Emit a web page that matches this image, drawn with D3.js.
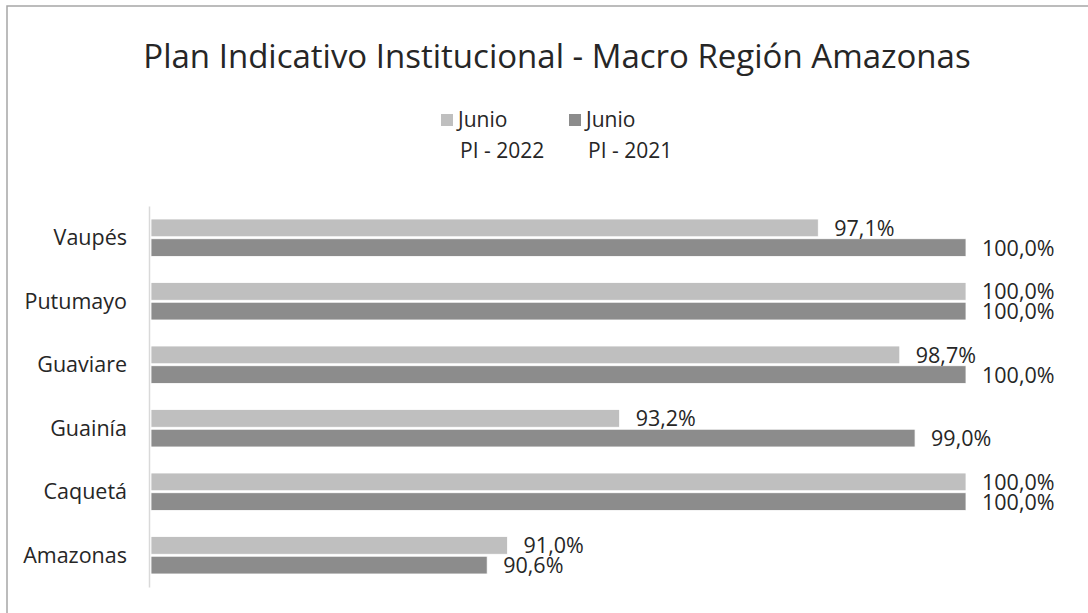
<!DOCTYPE html>
<html>
<head>
<meta charset="utf-8">
<script src="https://cdn.jsdelivr.net/npm/d3@7"></script>
<style>
  body { margin: 0; background: #fff; }
  svg { display: block; font-family: "Open Sans", sans-serif; }
</style>
</head>
<body>
<svg id="chart" width="1088" height="613"></svg>
<script>
// categories, top to bottom
const categories = ['Vaupés', 'Putumayo', 'Guaviare', 'Guainía', 'Caquetá', 'Amazonas'];
const seriesNames = ['Junio PI - 2022', 'Junio PI - 2021'];
const legendLines = [['Junio', 'PI - 2022'], ['Junio', 'PI - 2021']];
const values2022 = [97.1, 100.0, 98.7, 93.2, 100.0, 91.0];
const values2021 = [100.0, 100.0, 100.0, 99.0, 100.0, 90.6];
const colors = ['#bfbfbf', '#8c8c8c'];

const width = 1088;
const height = 613;
const svg = d3.select('#chart');

// outer chart border
svg.append('rect')
  .attr('x', 7).attr('y', 6)
  .attr('width', width + 10).attr('height', height + 10)
  .attr('fill', 'none')
  .attr('stroke', '#a6a6a6')
  .attr('stroke-width', 1.5);

// title
svg.append('text')
  .attr('x', 557).attr('y', 68)
  .attr('text-anchor', 'middle')
  .attr('font-size', 33)
  .attr('fill', '#262626')
  .text('Plan Indicativo Institucional - Macro Región Amazonas');

// legend
const legendX = [441, 569];
legendLines.forEach((lines, i) => {
  const g = svg.append('g').attr('transform', `translate(${legendX[i]}, 0)`);
  g.append('rect')
    .attr('x', 0).attr('y', 114)
    .attr('width', 12).attr('height', 12)
    .attr('fill', colors[i]);
  g.append('text')
    .attr('x', 17).attr('y', 127)
    .attr('font-size', 21)
    .attr('fill', '#262626')
    .text(lines[0]);
  g.append('text')
    .attr('x', 19).attr('y', 158)
    .attr('font-size', 21)
    .attr('fill', '#262626')
    .text(lines[1]);
});

// scales
const plotLeft = 151;
const xScale = d3.scaleLinear().domain([84, 100]).range([plotLeft, 966]);
const yScale = d3.scaleBand().domain(categories).range([206, 587])
  .paddingInner(0.41).paddingOuter(0.205);
const ySub = d3.scaleBand().domain(seriesNames).range([0, yScale.bandwidth()]).paddingInner(0.1);

const rows = categories.map((c, i) => ({
  category: c,
  vals: [
    { key: seriesNames[0], value: values2022[i], color: colors[0] },
    { key: seriesNames[1], value: values2021[i], color: colors[1] }
  ]
}));

const groups = svg.append('g').selectAll('g')
  .data(rows)
  .join('g')
  .attr('transform', d => `translate(0, ${yScale(d.category)})`);

groups.selectAll('rect')
  .data(d => d.vals)
  .join('rect')
  .attr('x', plotLeft)
  .attr('y', d => ySub(d.key))
  .attr('width', d => xScale(d.value) - plotLeft)
  .attr('height', ySub.bandwidth())
  .attr('fill', d => d.color)
  .attr('stroke', '#ffffff')
  .attr('stroke-width', 0.8);

const fmt = v => v.toFixed(1).replace('.', ',') + '%';

groups.selectAll('text.val')
  .data(d => d.vals)
  .join('text')
  .attr('class', 'val')
  .attr('x', d => xScale(d.value) + 16)
  .attr('y', d => ySub(d.key) + ySub.bandwidth() / 2 + 8)
  .attr('font-size', 21.5)
  .attr('fill', '#262626')
  .text(d => fmt(d.value));

// category axis
const yAxis = d3.axisLeft(yScale).tickSize(0).tickPadding(22);
const axisG = svg.append('g')
  .attr('transform', `translate(${plotLeft - 2}, 0)`)
  .call(yAxis);
axisG.select('.domain').attr('stroke', '#d9d9d9').attr('stroke-width', 1.5);
axisG.selectAll('text')
  .attr('font-size', 21.5)
  .attr('font-family', '"Open Sans", sans-serif')
  .attr('fill', '#262626')
  .attr('dy', '0.35em');
</script>
</body>
</html>
